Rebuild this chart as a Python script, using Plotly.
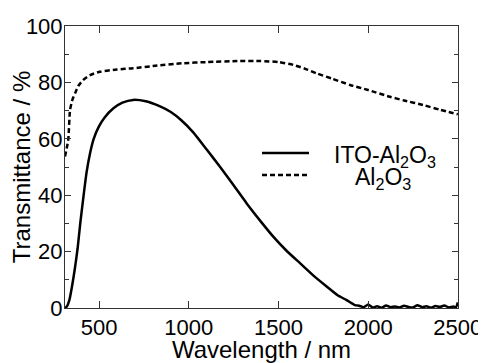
import plotly.graph_objects as go

# ITO-Al2O3 transmittance
ito_wl = [310, 320, 335, 350, 365, 380, 395, 410, 430, 450, 470, 500, 530, 580, 630, 690,
          760, 840, 900, 960, 1025, 1100, 1174, 1250, 1323, 1400, 1471, 1545, 1620, 1700,
          1769, 1830, 1880, 1927,
          1950, 1975, 2000, 2025, 2050, 2075, 2100, 2125, 2150, 2175, 2200, 2225, 2250,
          2275, 2300, 2325, 2350, 2375, 2400, 2425, 2450, 2475, 2490, 2500]
ito_t = [0.0, 0.5, 3.0, 8.0, 14.0, 21.0, 30.0, 38.0, 48.0, 55.0, 60.0, 64.5, 67.5, 70.8, 72.8, 73.8,
         73.3, 71.5, 69.5, 66.5, 62.3, 56.2, 50.1, 43.5, 37.1, 30.8, 25.3, 20.3, 15.9, 11.2,
         7.6, 4.5, 2.8, 1.0,
         0.8, 0.3, 1.2, 0.2, 0.6, 0.1, 0.9, 0.3, 0.5, 0.2, 0.8, 0.4, 0.2, 1.0, 0.3, 0.6,
         0.1, 0.7, 0.4, 0.9, 0.2, 0.5, 0.3, 2.0]

# Al2O3 transmittance
al_wl = [310, 328, 338, 352, 366, 385, 412, 450, 505, 600, 689, 800, 968, 1100, 1285, 1400,
         1500, 1583, 1650, 1713, 1800, 1899, 2000, 2121, 2200, 2306, 2400, 2500]
al_t = [53.7, 59.6, 70.2, 74.0, 76.1, 78.8, 80.9, 82.6, 83.8, 84.6, 85.0, 85.8, 86.8, 87.2, 87.6, 87.6,
        87.2, 86.2, 84.8, 83.2, 81.3, 79.1, 77.3, 74.9, 73.6, 72.0, 70.3, 68.7]

x_ticks = [500, 1000, 1500, 2000, 2500]
y_ticks = [0, 20, 40, 60, 80, 100]

FONT = "Liberation Sans, Arial, sans-serif"

fig = go.Figure()
fig.add_trace(go.Scatter(x=ito_wl, y=ito_t, mode="lines", name="ITO-Al<sub>2</sub>O<sub>3</sub>",
                         line=dict(color="black", width=2.5, shape="spline", smoothing=0.5)))
fig.add_trace(go.Scatter(x=al_wl, y=al_t, mode="lines", name="Al<sub>2</sub>O<sub>3</sub>",
                         line=dict(color="black", width=2.5, dash="5px,3px", shape="spline", smoothing=0.5)))

axis_common = dict(showline=True, linecolor="#333", linewidth=1, mirror="allticks",
                   ticks="inside", tickwidth=1, tickcolor="#333", automargin=False,
                   showgrid=False, zeroline=False,
                   tickfont=dict(family=FONT, size=22, color="black"))

fig.update_xaxes(range=[310, 2501], tickvals=x_ticks, ticktext=[str(v) for v in x_ticks], ticklen=7,
                 title=dict(text="Wavelength / nm", font=dict(family=FONT, size=24, color="black"), standoff=1),
                 **axis_common)
fig.update_yaxes(range=[0, 100], tickvals=y_ticks, ticktext=[str(v) for v in y_ticks], ticklen=6,
                 ticklabelstandoff=-3,
                 minor=dict(dtick=10, ticks="inside", ticklen=4, tickcolor="#333"),
                 title=dict(text="Transmittance / %", font=dict(family=FONT, size=24, color="black"), standoff=0),
                 **axis_common)

# plot area in window pixels: x 65..458, y 26..308
PW, PH = 393.0, 282.0
def px(xw):
    return (xw - 65) / PW
def py(yw):
    return (308 - yw) / PH

# Legend drawn manually (centered labels)
fig.add_shape(type="line", xref="paper", yref="paper", x0=px(262), x1=px(309),
              y0=py(153), y1=py(153), line=dict(color="black", width=2.5))
fig.add_shape(type="line", xref="paper", yref="paper", x0=px(262), x1=px(309),
              y0=py(175), y1=py(175), line=dict(color="black", width=2.5, dash="5px,3px"))
fig.add_annotation(xref="paper", yref="paper", x=px(385), y=py(156),
                   text="ITO-Al<sub>2</sub>O<sub>3</sub>", showarrow=False, xanchor="center", yanchor="middle",
                   font=dict(family=FONT, size=23, color="black"))
fig.add_annotation(xref="paper", yref="paper", x=px(383), y=py(178),
                   text="Al<sub>2</sub>O<sub>3</sub>", showarrow=False, xanchor="center", yanchor="middle",
                   font=dict(family=FONT, size=23, color="black"))

# page body has an 8px default margin; compensate so the plot area lands at x 65..458, y 26..308
fig.update_layout(width=478, height=355, margin=dict(l=57, r=28, t=18, b=55),
                  plot_bgcolor="white", paper_bgcolor="white", showlegend=False,
                  font=dict(family=FONT, color="black"))

fig.write_html("out.html")
